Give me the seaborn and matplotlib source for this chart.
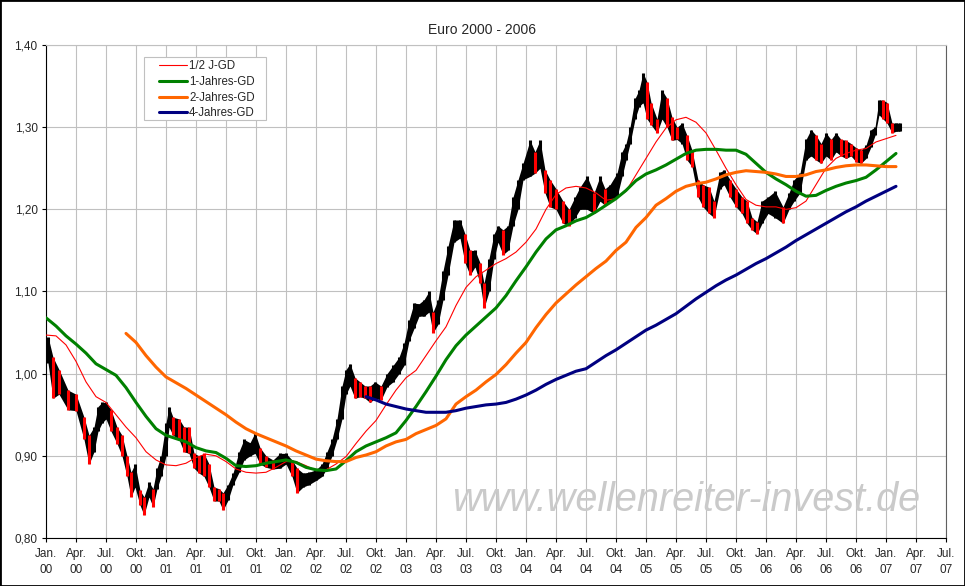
import numpy as np
import pandas as pd
import matplotlib
matplotlib.use('Agg')
import matplotlib.pyplot as plt
from matplotlib.patches import Rectangle
import seaborn as sns

# Euro price ranges (months since Jan 2000, low, high)
px_t = [0.2, 0.7, 1.3, 2.2, 3.0, 3.8, 4.3, 4.8, 5.2, 5.6, 6.0, 6.5, 7.1, 7.6, 8.1, 8.5, 8.9,
        9.4, 9.8, 10.3, 10.7, 11.1, 11.5, 12.0, 12.3, 12.7, 13.3, 13.8, 14.3, 14.8, 15.3,
        15.8, 16.3, 16.8, 17.3, 17.7, 18.2, 18.7, 19.3, 19.8, 20.4, 20.9, 21.4, 22.0, 22.7,
        23.4, 24.0, 24.6, 25.1, 25.7, 26.3, 27.0, 27.6, 28.1, 28.6, 29.1, 29.6, 30.0, 30.4,
        30.9, 31.4, 31.9, 32.4, 32.9, 33.5, 34.1, 34.7, 35.3, 35.8, 36.3, 36.8, 37.3, 37.8,
        38.3, 38.7, 39.2, 39.7, 40.2, 40.8, 41.4, 41.9, 42.4, 42.9, 43.4, 43.8, 44.3, 44.8,
        45.2, 45.7, 46.2, 46.7, 47.2, 47.7, 48.4, 48.9, 49.4, 49.9, 50.4, 51.0, 51.7, 52.3,
        52.9, 53.4, 54.1, 54.8, 55.4, 55.9, 56.4, 57.1, 57.6, 58.0, 58.4, 58.9, 59.3, 59.7,
        60.1, 60.5, 61.1, 61.6, 62.1, 62.6, 63.1, 63.6, 64.1, 64.6, 65.2, 65.7, 66.3, 66.8,
        67.4, 67.8, 68.4, 69.0, 69.6, 70.1, 70.6, 71.1, 71.6, 72.2, 72.9, 73.7, 74.3, 74.8,
        75.4, 76.0, 76.5, 77.0, 77.5, 78.0, 78.5, 79.0, 79.5, 80.0, 80.5, 81.0, 81.5, 82.0,
        82.5, 82.9, 83.3, 83.7, 84.1, 84.6, 85.0, 85.4]
px_lo = [1.013, 0.970, 0.975, 0.956, 0.955, 0.920, 0.890, 0.905, 0.930, 0.940, 0.945, 0.930,
         0.915, 0.900, 0.875, 0.850, 0.862, 0.840, 0.828, 0.850, 0.838, 0.860, 0.875, 0.900,
         0.935, 0.925, 0.920, 0.905, 0.903, 0.885, 0.879, 0.875, 0.862, 0.845, 0.845, 0.834,
         0.846, 0.865, 0.880, 0.895, 0.900, 0.903, 0.890, 0.886, 0.884, 0.885, 0.890, 0.875,
         0.855, 0.862, 0.865, 0.870, 0.875, 0.885, 0.900, 0.920, 0.945, 0.975, 0.985, 0.970,
         0.972, 0.970, 0.965, 0.970, 0.968, 0.984, 0.990, 1.000, 1.010, 1.040, 1.055, 1.070,
         1.070, 1.075, 1.050, 1.060, 1.090, 1.120, 1.160, 1.165, 1.135, 1.120, 1.130, 1.110,
         1.080, 1.100, 1.140, 1.160, 1.145, 1.150, 1.180, 1.200, 1.236, 1.240, 1.244, 1.250,
         1.220, 1.203, 1.200, 1.183, 1.180, 1.190, 1.200, 1.200, 1.195, 1.210, 1.205, 1.210,
         1.215, 1.240, 1.260, 1.280, 1.310, 1.325, 1.330, 1.310, 1.303, 1.293, 1.310, 1.300,
         1.284, 1.285, 1.280, 1.260, 1.252, 1.215, 1.203, 1.195, 1.190, 1.225, 1.230, 1.215,
         1.203, 1.195, 1.183, 1.175, 1.170, 1.183, 1.195, 1.190, 1.183, 1.200, 1.210, 1.220,
         1.260, 1.265, 1.260, 1.256, 1.265, 1.260, 1.270, 1.265, 1.262, 1.265, 1.258, 1.256,
         1.262, 1.276, 1.290, 1.315, 1.310, 1.305, 1.293, 1.295, 1.295]
px_hi = [1.045, 1.020, 1.005, 0.980, 0.975, 0.947, 0.925, 0.935, 0.960, 0.965, 0.965, 0.956,
         0.935, 0.925, 0.900, 0.880, 0.890, 0.858, 0.850, 0.868, 0.860, 0.885, 0.900, 0.940,
         0.960, 0.947, 0.945, 0.935, 0.935, 0.903, 0.900, 0.903, 0.890, 0.862, 0.860, 0.855,
         0.865, 0.879, 0.905, 0.920, 0.916, 0.928, 0.910, 0.900, 0.895, 0.903, 0.903, 0.895,
         0.885, 0.879, 0.880, 0.883, 0.890, 0.905, 0.920, 0.945, 0.985, 1.005, 1.012, 0.995,
         0.990, 0.985, 0.985, 0.990, 0.985, 1.000, 1.010, 1.020, 1.037, 1.065, 1.086, 1.085,
         1.090, 1.100, 1.075, 1.090, 1.125, 1.155, 1.187, 1.187, 1.170, 1.150, 1.150, 1.135,
         1.110, 1.140, 1.170, 1.180, 1.175, 1.180, 1.215, 1.236, 1.256, 1.284, 1.270, 1.284,
         1.248, 1.236, 1.225, 1.210, 1.200, 1.215, 1.227, 1.240, 1.220, 1.240, 1.225, 1.230,
         1.244, 1.270, 1.280, 1.300, 1.335, 1.345, 1.366, 1.355, 1.330, 1.310, 1.345, 1.335,
         1.312, 1.300, 1.305, 1.290, 1.272, 1.236, 1.230, 1.227, 1.210, 1.245, 1.248, 1.236,
         1.225, 1.215, 1.210, 1.190, 1.185, 1.210, 1.215, 1.222, 1.203, 1.220, 1.236, 1.244,
         1.285, 1.297, 1.290, 1.280, 1.293, 1.285, 1.293, 1.285, 1.284, 1.280, 1.275, 1.272,
         1.278, 1.297, 1.300, 1.333, 1.333, 1.330, 1.305, 1.305, 1.305]

# moving averages, one value per month
ma_half = [1.047, 1.046, 1.035, 1.015, 0.990, 0.972, 0.965, 0.950, 0.935, 0.922, 0.905, 0.895,
           0.889, 0.888, 0.891, 0.898, 0.902, 0.900, 0.893, 0.884, 0.880, 0.879, 0.880, 0.886,
           0.893, 0.893, 0.888, 0.882, 0.883, 0.890, 0.899, 0.915, 0.930, 0.943, 0.962, 0.980,
           0.995, 1.004, 1.022, 1.040, 1.057, 1.083, 1.105, 1.118, 1.126, 1.134, 1.140, 1.148,
           1.160, 1.176, 1.200, 1.218, 1.226, 1.228, 1.226, 1.220, 1.211, 1.213, 1.222, 1.242,
           1.262, 1.282, 1.299, 1.309, 1.312, 1.306, 1.293, 1.272, 1.250, 1.230, 1.212, 1.205,
           1.203, 1.203, 1.200, 1.202, 1.210, 1.230, 1.250, 1.262, 1.268, 1.272, 1.274, 1.282,
           1.286, 1.290]
ma_1y = [1.068, 1.058, 1.046, 1.036, 1.025, 1.012, 1.005, 0.998, 0.983, 0.965, 0.948, 0.933,
         0.925, 0.921, 0.917, 0.910, 0.906, 0.904, 0.897, 0.888, 0.887, 0.888, 0.891, 0.893,
         0.895, 0.892, 0.886, 0.883, 0.882, 0.884, 0.894, 0.905, 0.912, 0.917, 0.922, 0.928,
         0.943, 0.960, 0.978, 0.997, 1.017, 1.034, 1.047, 1.058, 1.069, 1.080, 1.095, 1.113,
         1.130, 1.148, 1.164, 1.175, 1.180, 1.186, 1.190, 1.197, 1.205, 1.213, 1.223, 1.235,
         1.243, 1.248, 1.254, 1.261, 1.268, 1.272, 1.273, 1.273, 1.272, 1.272, 1.267, 1.256,
         1.245, 1.237, 1.230, 1.222, 1.216, 1.217, 1.223, 1.228, 1.232, 1.235, 1.239, 1.248,
         1.258, 1.268]
ma_2y = [1.049, 1.038, 1.022, 1.008, 0.996, 0.989, 0.982, 0.974, 0.966, 0.958, 0.950, 0.941,
         0.933, 0.927, 0.922, 0.917, 0.912, 0.906, 0.901, 0.896, 0.894, 0.893, 0.893, 0.898,
         0.901, 0.905, 0.912, 0.917, 0.920, 0.927, 0.932, 0.937, 0.945, 0.963, 0.972, 0.980,
         0.990, 0.999, 1.011, 1.025, 1.038, 1.056, 1.072, 1.086, 1.097, 1.108, 1.118, 1.128,
         1.137, 1.150, 1.160, 1.178, 1.190, 1.205, 1.213, 1.222, 1.228, 1.231, 1.233, 1.237,
         1.242, 1.245, 1.247, 1.246, 1.245, 1.243, 1.240, 1.240, 1.242, 1.246, 1.248, 1.251,
         1.253, 1.254, 1.254, 1.253, 1.252, 1.252]
ma_4y = [0.972, 0.968, 0.963, 0.960, 0.957, 0.955, 0.953, 0.953, 0.953, 0.955, 0.958, 0.960,
         0.962, 0.963, 0.965, 0.969, 0.974, 0.980, 0.987, 0.993, 0.998, 1.003, 1.006, 1.014,
         1.022, 1.029, 1.037, 1.045, 1.053, 1.059, 1.066, 1.073, 1.082, 1.091, 1.099, 1.107,
         1.114, 1.120, 1.127, 1.134, 1.140, 1.147, 1.154, 1.162, 1.169, 1.176, 1.183, 1.190,
         1.197, 1.203, 1.210, 1.216, 1.222, 1.228]
ma_2y_start = 8
ma_4y_start = 32

month_names = ['Jan.', 'Apr.', 'Jul.', 'Okt.']
years = ['00', '01', '02', '03', '04', '05', '06', '07']

sns.set_style('white')
plt.rcParams['font.family'] = ['Liberation Sans', 'DejaVu Sans']

W, H = 965, 586
fig = plt.figure(figsize=(9.65, 5.86), dpi=100)
fig.patch.set_facecolor('white')
ax = fig.add_axes([46 / W, 1 - 538 / H, 900 / W, 493 / H])

# price: black band plus bars, red where the price falls
mid = (np.array(px_lo) + np.array(px_hi)) / 2
cols = ['black'] + ['black' if mid[i] >= mid[i - 1] else 'red' for i in range(1, len(mid))]
ax.fill_between(px_t, px_lo, px_hi, color='black', linewidth=0, zorder=2.8)
ax.vlines(px_t, px_lo, px_hi, colors=cols, linewidth=2.2, zorder=3)

df_half = pd.DataFrame({'m': np.arange(len(ma_half)), 'v': ma_half})
df_1y = pd.DataFrame({'m': np.arange(len(ma_1y)), 'v': ma_1y})
df_2y = pd.DataFrame({'m': np.arange(len(ma_2y)) + ma_2y_start, 'v': ma_2y})
df_4y = pd.DataFrame({'m': np.arange(len(ma_4y)) + ma_4y_start, 'v': ma_4y})

sns.lineplot(data=df_half, x='m', y='v', ax=ax, color='#FF0000', linewidth=0.8, label='1/2 J-GD', zorder=4)
sns.lineplot(data=df_1y, x='m', y='v', ax=ax, color='#008000', linewidth=2.2, label='1-Jahres-GD', zorder=4)
sns.lineplot(data=df_2y, x='m', y='v', ax=ax, color='#FF6600', linewidth=2.2, label='2-Jahres-GD', zorder=4)
sns.lineplot(data=df_4y, x='m', y='v', ax=ax, color='#000080', linewidth=2.2, label='4-Jahres-GD', zorder=4)

ax.set_xlim(0, 90)
ax.set_ylim(0.8, 1.4)
xt = np.arange(0, 91, 3)
ax.set_xticks(xt)
ax.set_xticklabels([f"{month_names[(k // 3) % 4]}\n{years[k // 12]}" for k in xt], linespacing=1.45)
yt = np.round(np.arange(0.8, 1.401, 0.1), 2)
ax.set_yticks(yt)
ax.set_yticklabels([f"{v:.2f}".replace('.', ',') for v in yt])
ax.set_xlabel('')
ax.set_ylabel('')

ax.grid(True, color='#C0C0C0', linewidth=0.8, zorder=0)
ax.set_axisbelow(True)
ax.tick_params(axis='both', direction='out', length=3, width=0.8, color='black',
               labelsize=8.5, pad=3, bottom=True, left=True)
ax.tick_params(axis='x', pad=4)
for s in ['left', 'bottom']:
    ax.spines[s].set_color('black')
    ax.spines[s].set_linewidth(0.8)
ax.spines['top'].set_color('#C0C0C0')
ax.spines['right'].set_color('#606060')
ax.spines['top'].set_linewidth(0.8)
ax.spines['right'].set_linewidth(0.8)

# legend frame drawn separately, Excel-style padding
ax.add_patch(Rectangle((144 / W, 1 - 120 / H), 122 / W, 63 / H, transform=fig.transFigure,
                       facecolor='white', edgecolor='#C0C0C0', linewidth=0.8, zorder=5,
                       clip_on=False))
leg = ax.legend(loc='upper left', bbox_to_anchor=(159 / W, 1 - 60 / H), bbox_transform=fig.transFigure,
                frameon=False, fontsize=8.3, handlelength=2.45, handletextpad=0.15,
                labelspacing=0.33, borderpad=0.0, borderaxespad=0)
leg.set_zorder(6)

fig.text(0.5, 1 - 30 / H, 'Euro 2000 - 2006', ha='center', va='center', fontsize=10)

fig.text(920 / W, 1 - 500 / H, 'www.wellenreiter-invest.de', ha='right', va='center',
         fontsize=28.5, style='italic', color='#CACACA', zorder=1)

fig.patches.append(Rectangle((0, 0), 1, 1, transform=fig.transFigure, fill=False,
                             edgecolor='black', linewidth=2))

fig.savefig('out.png', dpi=100)
